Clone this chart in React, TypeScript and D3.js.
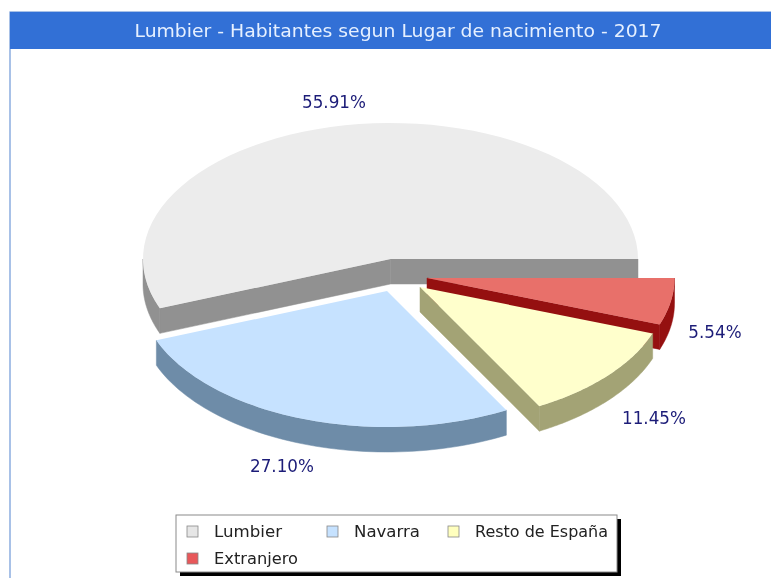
import React from "react";
import * as d3 from "d3";

const categories = ["Lumbier", "Navarra", "Resto de España", "Extranjero"];
const values = [55.91, 27.1, 11.45, 5.54];
const labels = ["55.91%", "27.10%", "11.45%", "5.54%"];
const topColors = ["#ececec", "#c6e2ff", "#ffffcc", "#e8706a"];
const sideColors = ["#919191", "#6e8ca8", "#a3a375", "#951010"];
const legendSwatch = ["#e6e6e6", "#c6e2ff", "#ffffbe", "#e8585a"];
const offsets: [number, number][] = [[-0.5, 0], [-4, 32], [29, 28], [36, 19]];
const labelPos: [number, number][] = [[334, 108], [282, 472], [654, 424], [715, 338]];

const W = 771, H = 578;
const cx = 391, cy = 259, rx = 247.5, ry = 136, depth = 25;
const ink = "#1c1c78";
const font = "'DejaVu Sans', sans-serif";

const arcs = d3.pie<number>().sort(null).startAngle(0).endAngle(2 * Math.PI)(values);
const line = d3.line<[number, number]>();
const steps = (a: number, b: number) => d3.range(0, 61).map((i) => a + ((b - a) * i) / 60);

export default function App() {
  const slices = arcs.map((d, i) => {
    const ox = cx + offsets[i][0];
    const oy = cy + offsets[i][1];
    // angles run counter-clockwise from 3 o'clock on screen
    const p = (a: number, dz = 0): [number, number] => [ox + rx * Math.cos(a), oy - ry * Math.sin(a) + dz];
    const a0 = d.startAngle, a1 = d.endAngle;
    const top = line([[ox, oy], ...steps(a0, a1).map((a) => p(a))]) + "Z";
    const sides: string[] = [];
    const apex: [number, number] = [ox, oy];
    const apexLow: [number, number] = [ox, oy + depth];
    [a0, a1].forEach((a, k) => {
      const visible = k === 0 ? a < Math.PI / 2 || a > 1.5 * Math.PI : a > Math.PI && a < 1.5 * Math.PI;
      if (visible) sides.push(line([apex, p(a), p(a, depth), apexLow])! + "Z");
    });
    const lo = Math.max(a0, Math.PI), hi = Math.min(a1, 2 * Math.PI);
    if (hi > lo) {
      const s = steps(lo, hi);
      sides.push(line([...s.map((a) => p(a)), ...s.slice().reverse().map((a) => p(a, depth))])! + "Z");
    }
    return { top, sides, i };
  });

  const legendX = 176, legendY = 515, legendW = 441, legendH = 57;
  const legendItems: [number, number][] = [[187, 526], [327, 526], [448, 526], [187, 553]];
  const legendWidths = [68, 66, 133, 84];

  const side = (i: number) =>
    slices[i].sides.map((d, k) => (
      <path key={`s${i}${k}`} d={d} fill={sideColors[i]} stroke={sideColors[i]} strokeWidth={0.5} />
    ));
  const top = (i: number) => <path key={`t${i}`} d={slices[i].top} fill={topColors[i]} />;

  return (
    <svg width={W} height={H} viewBox={`0 0 ${W} ${H}`}
      style={{ position: "absolute", left: 0, top: 0, filter: "blur(0.45px)" }}>
      <rect x={0} y={0} width={W} height={H} fill="#ffffff" />
      <rect x={10} y={12} width={W + 20} height={H + 20} fill="#ffffff" stroke="#6f98d8" strokeWidth={1.2} />
      <rect x={10} y={12} width={W} height={37} fill="#3270d6" />
      <text x={398} y={37} textAnchor="middle" fontFamily={font} fontSize={16.8} textLength={527} lengthAdjust="spacingAndGlyphs" fill="#e6f0ff">
        Lumbier - Habitantes segun Lugar de nacimiento - 2017
      </text>

      {side(0)}{top(0)}
      {side(1)}{top(1)}
      {side(3)}
      {side(2)}{top(2)}
      {top(3)}

      {labels.map((t, i) => (
        <text key={t} x={labelPos[i][0]} y={labelPos[i][1]} textAnchor="middle" fontFamily={font} fontSize={16.8} fill={ink}>
          {t}
        </text>
      ))}

      <rect x={legendX + 4} y={legendY + 4} width={legendW} height={legendH} fill="#000000" />
      <rect x={legendX} y={legendY} width={legendW} height={legendH} fill="#ffffff" stroke="#8a8a8a" strokeWidth={1} />
      {categories.map((c, i) => (
        <g key={c}>
          <rect x={legendItems[i][0]} y={legendItems[i][1]} width={11} height={11}
            fill={legendSwatch[i]} stroke="#888888" strokeWidth={0.8} />
          <text x={legendItems[i][0] + 27} y={legendItems[i][1] + 10.5} fontFamily={font} fontSize={15.5}
            textLength={legendWidths[i]} lengthAdjust="spacingAndGlyphs" fill="#222222">
            {c}
          </text>
        </g>
      ))}
    </svg>
  );
}
